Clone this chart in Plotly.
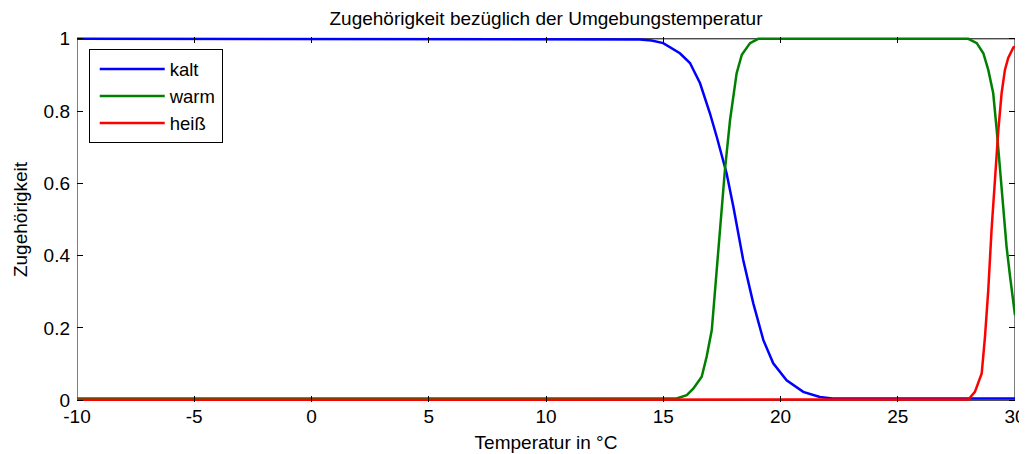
import plotly.graph_objects as go

# kalt (blue)
kalt_x = [-10, 13.5, 14.0, 14.5, 15.0, 15.71, 16.14, 16.57, 16.99, 17.28, 17.56, 17.70, 17.99,
          18.2, 18.41, 18.84, 19.27, 19.69, 20.26, 20.97, 21.68, 22.2, 30]
kalt_y = [1.0, 1.0, 0.998, 0.995, 0.988, 0.960, 0.933, 0.877, 0.794, 0.729, 0.665, 0.628, 0.535,
          0.462, 0.388, 0.268, 0.166, 0.102, 0.055, 0.023, 0.009, 0.005, 0.005]

# warm (green)
warm_x = [-10, 15.57, 16.0, 16.28, 16.64, 16.85, 17.07, 17.21, 17.35, 17.49, 17.63, 17.85, 18.13,
          18.35, 18.70, 19.05, 28.01, 28.37, 28.65, 28.86, 29.07, 29.22, 29.36, 29.5, 29.64,
          29.79, 30.0]
warm_y = [0.005, 0.005, 0.014, 0.032, 0.065, 0.12, 0.194, 0.305, 0.434, 0.545, 0.637, 0.776, 0.905,
          0.956, 0.988, 1.0, 1.0, 0.988, 0.96, 0.914, 0.85, 0.748, 0.637, 0.535, 0.425,
          0.342, 0.235]

# heiß (red)
heiss_x = [-10, 28.01, 28.29, 28.58, 28.72, 28.86, 29.0, 29.15, 29.29, 29.43, 29.57, 29.71, 29.93, 30.0]
heiss_y = [0.001, 0.002, 0.023, 0.074, 0.175, 0.305, 0.471, 0.628, 0.748, 0.85, 0.914, 0.947, 0.976, 0.978]

x_ticks = [-10, -5, 0, 5, 10, 15, 20, 25, 30]
x_tick_labels = ["-10", "-5", "0", "5", "10", "15", "20", "25", "30"]
y_ticks = [0, 0.2, 0.4, 0.6, 0.8, 1]
y_tick_labels = ["0", "0.2", "0.4", "0.6", "0.8", "1"]

FONT = "Liberation Sans, Arial, sans-serif"
FS = 19

fig = go.Figure()
fig.add_trace(go.Scatter(x=kalt_x, y=kalt_y, mode="lines", name="kalt",
                         line=dict(color="#0000FF", width=2.5)))
fig.add_trace(go.Scatter(x=warm_x, y=warm_y, mode="lines", name="warm",
                         line=dict(color="#008000", width=2.5)))
fig.add_trace(go.Scatter(x=heiss_x, y=heiss_y, mode="lines", name="heiß",
                         line=dict(color="#FF0000", width=2.5)))

fig.add_shape(type="rect", xref="x", yref="y", x0=-10, x1=30, y0=0, y1=1,
              line=dict(color="black", width=1), layer="below")

fig.update_layout(
    width=1019, height=446,
    margin=dict(l=69, r=12, t=29, b=52, autoexpand=False),
    paper_bgcolor="white", plot_bgcolor="white",
    font=dict(family=FONT, size=FS, color="black"),
    title=dict(text="Zugehörigkeit bezüglich der Umgebungstemperatur",
               xref="paper", x=0.5, xanchor="center", y=0.9776, yanchor="middle",
               font=dict(size=FS)),
    showlegend=True,
    legend=dict(x=0.0125, y=0.966, xanchor="left", yanchor="top",
                bordercolor="black", borderwidth=1, bgcolor="white",
                font=dict(size=18.5), itemwidth=65, indentation=5, tracegroupgap=0),
)
fig.update_xaxes(range=[-10, 30], tickvals=x_ticks, ticktext=x_tick_labels,
                 ticks="inside", ticklen=6, automargin=False,
                 tickcolor="black", mirror="ticks", showgrid=False, zeroline=False,
                 showline=False, tickfont=dict(size=FS), ticklabelstandoff=1,
                 title=dict(text="Temperatur in °C", font=dict(size=FS), standoff=9))
fig.update_yaxes(range=[-0.005, 1.005], tickvals=y_ticks, ticktext=y_tick_labels,
                 ticks="inside", ticklen=6, tickcolor="black", mirror="ticks", automargin=False,
                 showgrid=False, zeroline=False, showline=False, tickfont=dict(size=FS),
                 ticklabelstandoff=6,
                 title=dict(text="Zugehörigkeit", font=dict(size=FS), standoff=10))

fig.write_html("out.html")
